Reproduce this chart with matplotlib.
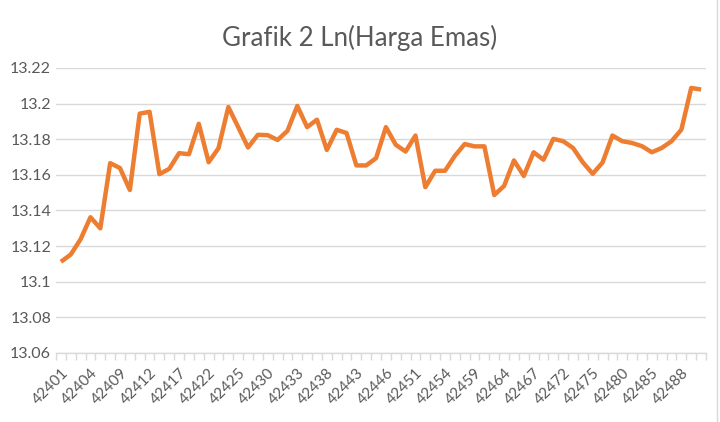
import matplotlib
matplotlib.use("Agg")
import matplotlib.pyplot as plt
from matplotlib.lines import Line2D

title = "Grafik 2 Ln(Harga Emas)"

dates = [42401, 42402, 42403, 42404, 42405, 42408, 42409, 42410, 42411, 42412,
         42415, 42416, 42417, 42418, 42419, 42422, 42423, 42424, 42425, 42426,
         42429, 42430, 42431, 42432, 42433, 42436, 42437, 42438, 42439, 42440,
         42443, 42444, 42445, 42446, 42447, 42450, 42451, 42452, 42453, 42454,
         42457, 42458, 42459, 42460, 42461, 42464, 42465, 42466, 42467, 42468,
         42471, 42472, 42473, 42474, 42475, 42478, 42479, 42480, 42481, 42482,
         42485, 42486, 42487, 42488, 42489, 42492]

ln_harga = [13.1112, 13.1153, 13.1239, 13.1362, 13.1300, 13.1666, 13.1638, 13.1515, 13.1944, 13.1954,
            13.1604, 13.1634, 13.1722, 13.1716, 13.1887, 13.1671, 13.1750, 13.1981, 13.1868, 13.1754,
            13.1825, 13.1823, 13.1796, 13.1847, 13.1987, 13.1868, 13.1910, 13.1740, 13.1853, 13.1835,
            13.1653, 13.1653, 13.1694, 13.1868, 13.1769, 13.1731, 13.1821, 13.1531, 13.1623, 13.1623,
            13.1707, 13.1773, 13.1760, 13.1760, 13.1487, 13.1538, 13.1681, 13.1594, 13.1727, 13.1685,
            13.1802, 13.1789, 13.1751, 13.1670, 13.1606, 13.1670, 13.1821, 13.1789, 13.1779, 13.1761,
            13.1727, 13.1751, 13.1789, 13.1854, 13.2088, 13.2079]

y_ticks = [13.06, 13.08, 13.1, 13.12, 13.14, 13.16, 13.18, 13.2, 13.22]
y_labels = ["13.06", "13.08", "13.1", "13.12", "13.14", "13.16", "13.18", "13.2", "13.22"]

FONT = "Lato"
TXT = "#595959"
GRID = "#d9d9d9"
ORANGE = "#ED7D31"

fig = plt.figure(figsize=(7.2, 4.22), dpi=100)
ax = fig.add_axes([56/720, 1 - 353/422, 650/720, (353 - 68)/422])

n = len(ln_harga)
xs = list(range(n))
ax.plot(xs, ln_harga, color=ORANGE, lw=3.2, solid_joinstyle="round", solid_capstyle="butt", zorder=3)

ax.set_xlim(-0.5, n - 0.5)
ax.set_ylim(13.06, 13.22)
ax.set_yticks(y_ticks)
ax.set_yticklabels(y_labels, fontfamily=FONT, fontsize=11.5, color=TXT)
ax.tick_params(axis="y", length=0, pad=3.5)
ax.grid(axis="y", color=GRID, lw=1.0, zorder=0)

# category boundary tick marks
ax.set_xticks([i - 0.5 for i in range(n + 1)], minor=True)
ax.tick_params(axis="x", which="minor", length=5, width=1, color=GRID, direction="out")
ax.set_xticks(xs[::3])
ax.set_xticklabels([str(d) for d in dates[::3]], rotation=45, ha="right", va="top",
                   rotation_mode="anchor", fontfamily=FONT, fontsize=11, color=TXT)
ax.tick_params(axis="x", which="major", length=0, pad=9)

for s in ["top", "right", "left"]:
    ax.spines[s].set_visible(False)
ax.spines["bottom"].set_color(GRID)
ax.spines["bottom"].set_linewidth(1.0)

fig.text(0.5, 1 - 38/422, title, ha="center", va="center", fontfamily=FONT,
         fontsize=18.6, color=TXT)

fig.add_artist(Line2D([717/720, 717/720], [0, 1], transform=fig.transFigure, color=GRID, lw=1))

fig.savefig("out.png", dpi=100)
